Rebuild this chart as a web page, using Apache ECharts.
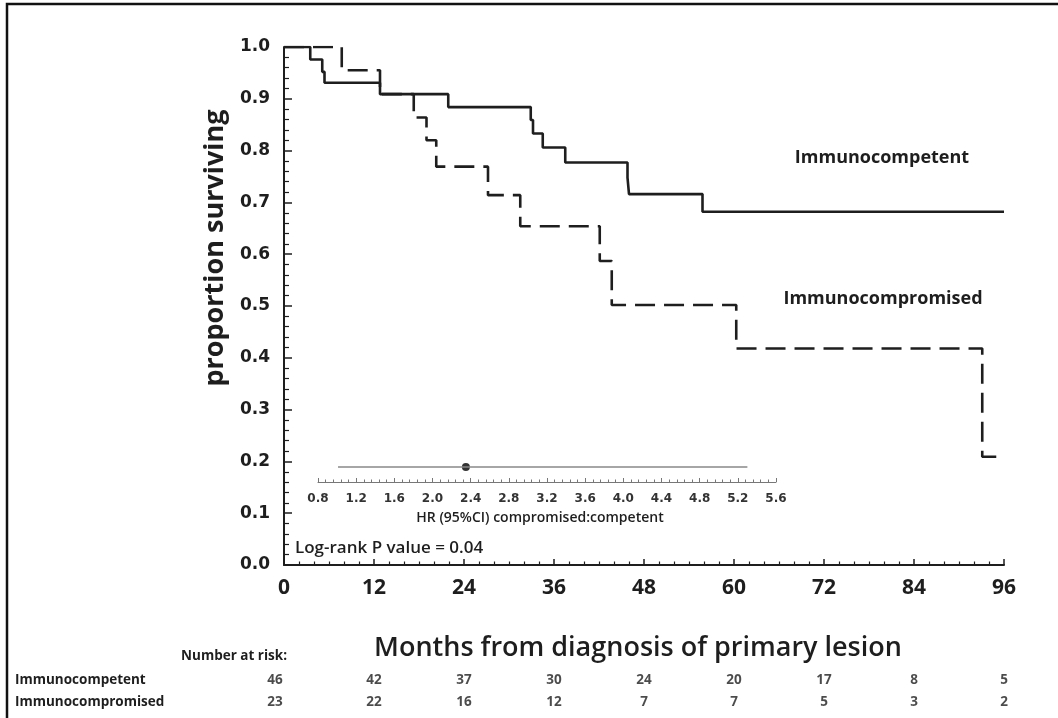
<!DOCTYPE html>
<html>
<head>
<meta charset="utf-8">
<script src="https://cdn.jsdelivr.net/npm/echarts@6/dist/echarts.min.js"></script>
<style>
  html, body { margin: 0; padding: 0; background: #fff; }
  #chart { width: 1058px; height: 718px; }
</style>
</head>
<body>
<div id="chart"></div>
<script>
// Kaplan-Meier steps: month of each drop and the survival proportion after it
const competentMonths = [0, 3.5, 5.1, 5.4, 12.8, 21.9, 32.9, 33.2, 34.5, 37.5, 45.8, 46.0, 55.8, 96];
const competentSurv   = [1.0, 0.976, 0.952, 0.931, 0.909, 0.884, 0.859, 0.833, 0.806, 0.777, 0.748, 0.716, 0.682, 0.682];

const compromisedMonths = [0, 7.7, 12.8, 17.3, 19.0, 20.3, 27.2, 31.5, 42.1, 43.7, 60.3, 93.1, 95.8];
const compromisedSurv   = [1.0, 0.955, 0.909, 0.864, 0.820, 0.769, 0.714, 0.654, 0.587, 0.502, 0.418, 0.209, 0.209];

// Hazard ratio with 95% confidence interval
const hrEstimate = 2.35;
const hrLower = 1.01;
const hrUpper = 5.3;

// Number-at-risk table
const riskMonths = [0, 12, 24, 36, 48, 60, 72, 84, 96];
const riskGroups = ['Immunocompetent', 'Immunocompromised'];
const riskCompetent = [46, 42, 37, 30, 24, 20, 17, 8, 5];
const riskCompromised = [23, 22, 16, 12, 7, 7, 5, 3, 2];

const ink = '#1e1e1e';
const zip = (xs, ys) => xs.map((x, i) => [x, ys[i]]);

const riskData = [];
[riskCompetent, riskCompromised].forEach((row, r) => {
  row.forEach((n, i) => {
    const item = { value: [riskMonths[i], r, n] };
    if (i === 0) item.label = { offset: [-9, 0] };
    riskData.push(item);
  });
});

const tableFont = { fontFamily: 'Open Sans', fontWeight: 'bold', fontSize: 13.5, fill: ink };

const chart = echarts.init(document.getElementById('chart'), null, { renderer: 'canvas' });

const option = {
  animation: false,
  backgroundColor: '#fff',
  grid: [
    { left: 284, top: 47, width: 720, height: 518 },
    { left: 318, top: 452, width: 458, height: 30 },
    { left: 284, top: 669, width: 720, height: 44 }
  ],
  xAxis: [
    {
      gridIndex: 0, type: 'value', min: 0, max: 96, interval: 12,
      axisLine: { lineStyle: { color: ink, width: 2 } },
      axisTick: { inside: true, length: 6, lineStyle: { color: ink, width: 1.5 } },
      minorTick: { show: true, splitNumber: 6, length: 3.5, lineStyle: { color: ink, width: 1.2 } },
      splitLine: { show: false },
      axisLabel: { margin: 13, fontFamily: 'Open Sans', fontWeight: 'bold', fontSize: 21, color: ink }
    },
    {
      gridIndex: 1, type: 'value', min: 0.8, max: 5.6, interval: 0.4,
      axisLine: { lineStyle: { color: '#777', width: 1 } },
      axisTick: { inside: true, length: 4, lineStyle: { color: '#777', width: 1 } },
      minorTick: { show: true, splitNumber: 5, length: 2.5, lineStyle: { color: '#777', width: 1 } },
      splitLine: { show: false },
      axisLabel: {
        margin: 11, fontFamily: 'DejaVu Sans', fontWeight: 'bold', fontSize: 12, color: '#333',
        formatter: v => v.toFixed(1)
      }
    },
    { gridIndex: 2, type: 'value', min: 0, max: 96, interval: 12, show: false }
  ],
  yAxis: [
    {
      gridIndex: 0, type: 'value', min: 0, max: 1, interval: 0.1,
      axisLine: { show: true, lineStyle: { color: ink, width: 2 } },
      axisTick: { show: true, inside: true, length: 8, lineStyle: { color: ink, width: 1.5 } },
      minorTick: { show: true, splitNumber: 5, length: 5, lineStyle: { color: ink, width: 1.2 } },
      splitLine: { show: false },
      axisLabel: {
        margin: 14, fontFamily: 'DejaVu Sans', fontWeight: 'bold', fontSize: 17, color: ink,
        formatter: v => v.toFixed(1)
      }
    },
    { gridIndex: 1, type: 'value', min: 0, max: 1, show: false },
    { gridIndex: 2, type: 'category', data: riskGroups, inverse: true, show: false }
  ],
  series: [
    {
      name: 'Immunocompetent', type: 'line', xAxisIndex: 0, yAxisIndex: 0,
      step: 'end', symbol: 'none',
      lineStyle: { color: ink, width: 2.6 },
      data: zip(competentMonths, competentSurv)
    },
    {
      name: 'Immunocompromised', type: 'line', xAxisIndex: 0, yAxisIndex: 0,
      step: 'end', symbol: 'none',
      lineStyle: { color: ink, width: 2.6, type: [20, 9] },
      data: zip(compromisedMonths, compromisedSurv)
    },
    {
      name: 'HR 95% CI', type: 'line', xAxisIndex: 1, yAxisIndex: 1,
      symbol: 'none', lineStyle: { color: '#888', width: 1.5 },
      data: [[hrLower, 0.5], [hrUpper, 0.5]]
    },
    {
      name: 'HR', type: 'scatter', xAxisIndex: 1, yAxisIndex: 1,
      symbol: 'circle', symbolSize: 8, itemStyle: { color: '#000' },
      data: [[hrEstimate, 0.5]]
    },
    {
      name: 'Number at risk', type: 'scatter', xAxisIndex: 2, yAxisIndex: 2,
      symbolSize: 1, itemStyle: { color: 'rgba(0,0,0,0)' },
      label: {
        show: true, position: 'inside', formatter: p => String(p.value[2]),
        fontFamily: 'Open Sans', fontWeight: 'bold', fontSize: 13.5, color: ink
      },
      data: riskData
    }
  ],
  graphic: [
    {
      type: 'rect', silent: true,
      shape: { x: 7, y: 4, width: 1100, height: 800 },
      style: { fill: 'none', stroke: '#111', lineWidth: 2.5 }
    },
    {
      type: 'text', x: 215, y: 248, rotation: Math.PI / 2,
      style: {
        text: 'proportion surviving', x: 0, y: 0, align: 'center', verticalAlign: 'middle',
        fontFamily: 'Open Sans', fontWeight: 'bold', fontSize: 27, fill: ink
      }
    },
    {
      type: 'text', x: 638, y: 648,
      style: {
        text: 'Months from diagnosis of primary lesion', align: 'center', verticalAlign: 'middle',
        fontFamily: 'Open Sans', fontWeight: 600, fontSize: 27, fill: ink
      }
    },
    {
      type: 'text', x: 882, y: 158,
      style: {
        text: 'Immunocompetent', align: 'center', verticalAlign: 'middle',
        fontFamily: 'Open Sans', fontWeight: 'bold', fontSize: 18, fill: ink
      }
    },
    {
      type: 'text', x: 883, y: 299,
      style: {
        text: 'Immunocompromised', align: 'center', verticalAlign: 'middle',
        fontFamily: 'Open Sans', fontWeight: 'bold', fontSize: 18, fill: ink
      }
    },
    {
      type: 'text', x: 540, y: 518,
      style: {
        text: 'HR (95%CI) compromised:competent', align: 'center', verticalAlign: 'middle',
        fontFamily: 'Open Sans', fontWeight: 600, fontSize: 14, fill: ink
      }
    },
    {
      type: 'text', x: 295, y: 548,
      style: {
        text: 'Log-rank P value = 0.04', align: 'left', verticalAlign: 'middle',
        fontFamily: 'Open Sans', fontWeight: 600, fontSize: 17, fill: ink
      }
    },
    {
      type: 'text', x: 287, y: 656,
      style: Object.assign({ text: 'Number at risk:', align: 'right', verticalAlign: 'middle' }, tableFont)
    },
    {
      type: 'text', x: 15, y: 680,
      style: Object.assign({ text: riskGroups[0], align: 'left', verticalAlign: 'middle' }, tableFont)
    },
    {
      type: 'text', x: 15, y: 702,
      style: Object.assign({ text: riskGroups[1], align: 'left', verticalAlign: 'middle' }, tableFont)
    }
  ]
};

chart.setOption(option);
</script>
</body>
</html>
